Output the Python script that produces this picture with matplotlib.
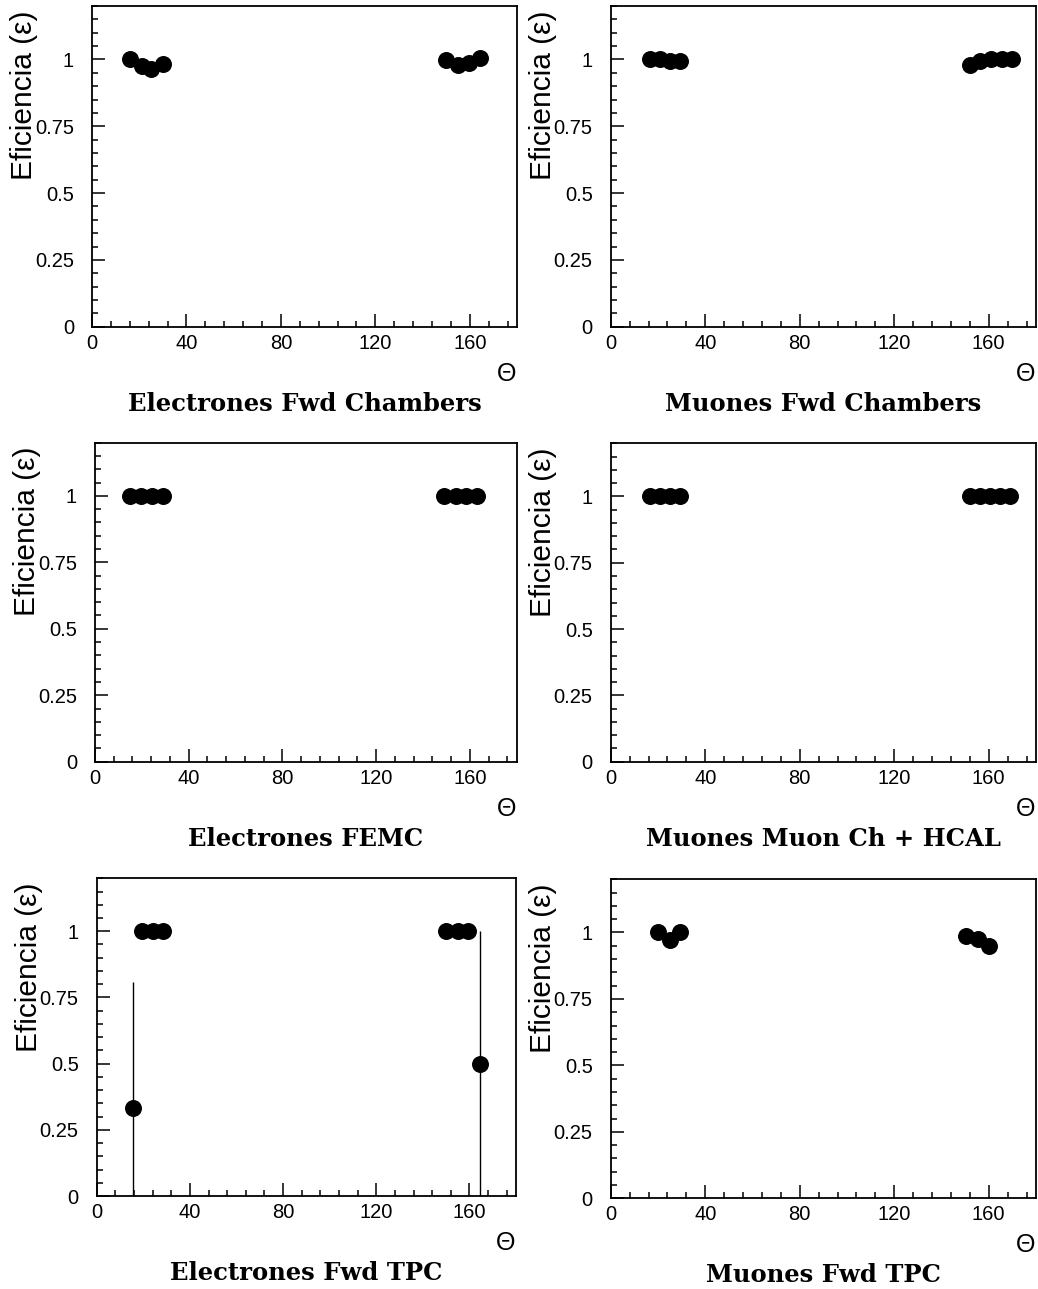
import matplotlib
matplotlib.use("Agg")
import matplotlib.pyplot as plt
from matplotlib.ticker import MultipleLocator, FixedLocator, FixedFormatter

# Efficiency vs polar angle for each forward subdetector
theta_el_fwdch = [16, 21, 25, 30, 150, 155, 159.5, 164.5]
eff_el_fwdch = [1.0, 0.977, 0.965, 0.983, 0.997, 0.980, 0.986, 1.006]

theta_mu_fwdch = [16.5, 20.7, 25, 29.5, 152, 156.5, 161, 165.5, 170]
eff_mu_fwdch = [1.003, 1.003, 0.995, 0.995, 0.978, 0.995, 1.0, 1.0, 1.0]

theta_el_femc = [15, 19.5, 24.5, 29, 149, 154, 158.5, 163]
eff_el_femc = [1.0, 1.0, 1.0, 1.0, 1.0, 1.0, 1.0, 1.0]

theta_mu_hcal = [16.5, 20.7, 25, 29.2, 152, 156.3, 160.5, 164.8, 169]
eff_mu_hcal = [1.0, 1.0, 1.0, 1.0, 1.0, 1.0, 1.0, 1.0, 1.0]

theta_el_tpc = [15.5, 19.5, 24, 28.5, 150, 155, 159.5, 164.5]
eff_el_tpc = [0.333, 1.0, 1.0, 1.0, 1.0, 1.0, 1.0, 0.5]
errlo_el_tpc = [0.333, 0, 0, 0, 0, 0, 0, 0.5]
errhi_el_tpc = [0.477, 0, 0, 0, 0, 0, 0, 0.5]

theta_mu_tpc = [20, 25, 29.5, 150.5, 155.5, 160]
eff_mu_tpc = [1.003, 0.971, 1.003, 0.985, 0.977, 0.950]
err_mu_tpc = [0, 0, 0, 0, 0, 0.015]

titles = ["Electrones Fwd Chambers", "Muones Fwd Chambers",
          "Electrones FEMC", "Muones Muon Ch + HCAL",
          "Electrones Fwd TPC", "Muones Fwd TPC"]

x_major = [0, 40, 80, 120, 160]
y_major = [0, 0.25, 0.5, 0.75, 1.0]
y_labels = ["0", "0.25", "0.5", "0.75", "1"]

W, H = 1038, 1289
fig = plt.figure(figsize=(W / 100, H / 100), dpi=100)
fig.patch.set_facecolor("white")

# panel boxes in pixels: left, right, top, bottom
boxes = [
    (92, 517, 6, 326.7),
    (610.7, 1036, 6, 326.7),
    (95, 516.7, 442.7, 761.7),
    (610.7, 1036, 443.3, 761.7),
    (96.7, 516, 878.3, 1196),
    (610.7, 1036, 879.3, 1198.3),
]

series = [
    (theta_el_fwdch, eff_el_fwdch, None),
    (theta_mu_fwdch, eff_mu_fwdch, None),
    (theta_el_femc, eff_el_femc, None),
    (theta_mu_hcal, eff_mu_hcal, None),
    (theta_el_tpc, eff_el_tpc, [errlo_el_tpc, errhi_el_tpc]),
    (theta_mu_tpc, eff_mu_tpc, err_mu_tpc),
]

sans = ["Liberation Sans", "DejaVu Sans"]

for (l, r, t, b), (xs, ys, err), title in zip(boxes, series, titles):
    ax = fig.add_axes([l / W, 1 - b / H, (r - l) / W, (b - t) / H])
    ax.set_xlim(0, 180)
    ax.set_ylim(0, 1.2)
    for s in ax.spines.values():
        s.set_linewidth(1.3)
    if err is not None:
        ax.errorbar(xs, ys, yerr=err, fmt="none", ecolor="black",
                    elinewidth=1.0, capsize=0, zorder=2)
    ax.plot(xs, ys, "o", color="black", markersize=11.2, zorder=3)

    ax.xaxis.set_major_locator(FixedLocator(x_major))
    ax.xaxis.set_minor_locator(MultipleLocator(8))
    ax.yaxis.set_major_locator(FixedLocator(y_major))
    ax.yaxis.set_major_formatter(FixedFormatter(y_labels))
    ax.yaxis.set_minor_locator(MultipleLocator(0.05))
    ax.tick_params(which="both", direction="in", top=False, right=False,
                   width=1.1, labelsize=14.5)
    ax.tick_params(axis="x", which="major", length=9.5, pad=5)
    ax.tick_params(axis="y", which="major", length=9.5, pad=13)
    ax.tick_params(which="minor", length=4.5)
    for lab in ax.get_xticklabels() + ax.get_yticklabels():
        lab.set_family(sans)

    # y-axis label placed against the top of the frame
    fig.text((l - 68) / W, 1 - (t + 4) / H, "Eficiencia (ε)", rotation=90,
             ha="center", va="top", fontsize=21.5, family=sans)
    # angle symbol at the end of the x axis
    fig.text((r - 10) / W, 1 - (b + 47) / H, "Θ", ha="center", va="center",
             fontsize=18, family=sans)
    # panel caption
    fig.text((l + r) / 2 / W, 1 - (b + 77) / H, title, ha="center",
             va="center", fontsize=17.5, fontweight="bold",
             family=["DejaVu Serif"])

fig.savefig("out.png", dpi=100, facecolor="white")
